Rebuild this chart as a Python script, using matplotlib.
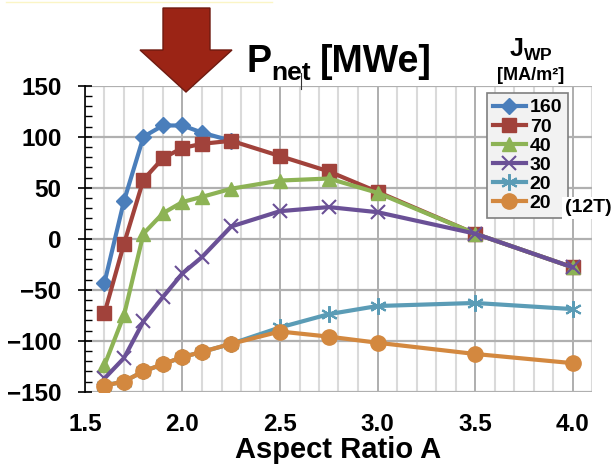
import matplotlib
matplotlib.use("Agg")
import matplotlib.pyplot as plt
from matplotlib.patches import Polygon
from matplotlib.lines import Line2D
from matplotlib.ticker import MultipleLocator

plt.rcParams['font.family'] = ['Liberation Sans', 'DejaVu Sans']
plt.rcParams['mathtext.fontset'] = 'custom'
plt.rcParams['mathtext.rm'] = 'Liberation Sans'
plt.rcParams['mathtext.bf'] = 'Liberation Sans:bold'

# aspect ratio A
A = [1.6, 1.7, 1.8, 1.9, 2.0, 2.1, 2.25, 2.5, 2.75, 3.0, 3.5, 4.0]

# net electric power [MWe] for each J_WP
p160 = [-43, 37, 100, 111, 111, 104, 96]
p70 = [-73, -5, 58, 79, 89, 93, 96, 81, 66, 46, 5, -28]
p40 = [-124, -75, 5, 25, 36, 41, 49, 57, 59, 45, 5, -28]
p30 = [-137, -117, -81, -57, -34, -18, 12, 27, 31, 26, 5, -28]
p20 = [-144, -140, -130, -123, -116, -111, -103, -87, -74, -66, -63, -69]
p20_12T = [-144, -140, -130, -123, -116, -111, -103, -91, -96, -102, -113, -122]

labels = ['160', '70', '40', '30', '20', '20']

W, H = 611, 468
fig = plt.figure(figsize=(W / 100, H / 100), dpi=100)
ax = fig.add_axes([85 / W, 1 - 391.7 / H, 507 / W, 306 / H])

star = (6, 2, 0)
ax.plot(A[:len(p160)], p160, color='#4a7ebb', lw=3, marker='D', ms=8, label=labels[0])
ax.plot(A, p70, color='#a1423b', lw=3, marker='s', ms=10, label=labels[1])
ax.plot(A, p40, color='#8db355', lw=3, marker='^', ms=10, label=labels[2])
ax.plot(A, p30, color='#6a5096', lw=3, marker='x', ms=10, mew=1.5, label=labels[3])
ax.plot(A, p20, color='#5b9cb6', lw=3, marker=star, ms=12, mew=1.5, label=labels[4])
ax.plot(A, p20_12T, color='#d3883f', lw=3, marker='o', ms=11, label=labels[5])

ax.set_xlim(1.5, 4.1)
ax.set_ylim(-150, 150)
ax.xaxis.set_major_locator(MultipleLocator(0.5))
ax.xaxis.set_minor_locator(MultipleLocator(0.1))
ax.yaxis.set_major_locator(MultipleLocator(50))
ax.yaxis.set_minor_locator(MultipleLocator(10))
ax.set_xticks([1.5, 2.0, 2.5, 3.0, 3.5, 4.0])
ax.set_xticklabels(['1.5', '2.0', '2.5', '3.0', '3.5', '4.0'])

ax.grid(which='minor', axis='x', color='#dadada', lw=1.5)
ax.grid(which='major', axis='x', color='#a8a8a8', lw=1.3)
ax.grid(which='major', axis='y', color='#b0b0b0', lw=1.6)
ax.set_axisbelow(True)
for s in ['top', 'right', 'bottom']:
    ax.spines[s].set_visible(False)
ax.spines['left'].set_linewidth(1.2)

ax.tick_params(axis='x', which='both', length=0, pad=15, labelsize=17.5)
ax.tick_params(axis='y', which='major', direction='inout', length=10, width=1.2,
               pad=12, labelsize=17.5)
ax.tick_params(axis='y', which='minor', direction='in', length=5, width=1.0)
for t in ax.get_xticklabels() + ax.get_yticklabels():
    t.set_fontweight('bold')

ax.set_xlabel('Aspect Ratio A', fontsize=21, fontweight='bold', labelpad=0)

leg = fig.legend(loc='upper left', bbox_to_anchor=(487 / W, 1 - 93 / H),
                 prop={'weight': 'bold', 'size': 14},
                 handlelength=1.7, handletextpad=0.2, labelspacing=0.08,
                 borderpad=0.3, borderaxespad=0, fancybox=False,
                 facecolor='#f2f2f2', edgecolor='#7f7f7f', framealpha=1)
leg.get_frame().set_linewidth(1.2)

# title, subscript drawn as its own text
fig.text(247 / W, 1 - 72 / H, 'P', fontsize=27, fontweight='bold',
         ha='left', va='baseline')
fig.text(271 / W, 1 - 80 / H, 'net', fontsize=19, fontweight='bold',
         ha='left', va='baseline')
fig.text(320 / W, 1 - 72 / H, '[MWe]', fontsize=27, fontweight='bold',
         ha='left', va='baseline')

fig.text(531 / W, 1 - 57 / H, r'$\mathbf{J_{WP}}$', fontsize=18,
         ha='center', va='baseline')
fig.text(531 / W, 1 - 80 / H, '[MA/m²]', fontsize=13, fontweight='bold',
         ha='center', va='baseline')
fig.text(588 / W, 1 - 208 / H, '(12T)', fontsize=14, fontweight='bold',
         ha='center', va='center', zorder=10,
         bbox=dict(facecolor='white', edgecolor='none', pad=2))

# down arrow
pts = [(163, 8), (210, 8), (210, 50), (232, 50), (186, 92), (140, 50), (163, 50)]
arrow = Polygon([(x / W, 1 - y / H) for x, y in pts], closed=True,
                transform=fig.transFigure, facecolor='#9b2415',
                edgecolor='#6e1a10', lw=1)
fig.add_artist(arrow)

# small artifacts from the original slide
fig.add_artist(Line2D([301 / W, 301 / W], [1 - 73 / H, 1 - 89 / H],
                      transform=fig.transFigure, color='#333333', lw=0.8))
fig.add_artist(Line2D([6 / W, 272 / W], [1 - 1.5 / H, 1 - 1.5 / H],
                      transform=fig.transFigure, color='#fbf5c6', lw=1))

fig.savefig('out.png', dpi=100)
